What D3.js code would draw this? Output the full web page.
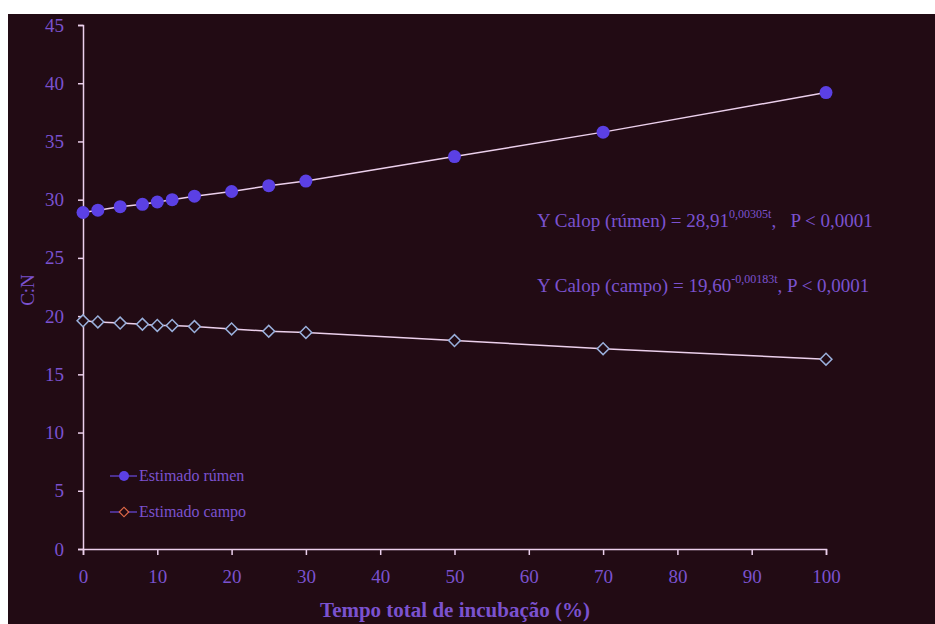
<!DOCTYPE html>
<html><head><meta charset="utf-8">
<script src="https://cdn.jsdelivr.net/npm/d3@7"></script>
<style>body{margin:0;background:#fff}svg{display:block}</style>
</head><body>
<script>
const tempo = [0, 2, 5, 8, 10, 12, 15, 20, 25, 30, 50, 70, 100];
const rumen = [28.9, 29.1, 29.4, 29.6, 29.8, 30.0, 30.3, 30.7, 31.2, 31.6, 33.7, 35.8, 39.2];
const campo = [19.6, 19.5, 19.4, 19.3, 19.2, 19.2, 19.1, 18.9, 18.7, 18.6, 17.9, 17.2, 16.3];
const xTicks = [0,10,20,30,40,50,60,70,80,90,100];
const yTicks = [0,5,10,15,20,25,30,35,40,45];

const W = 935, H = 624;
const svg = d3.select("body").append("svg").attr("width", W).attr("height", H);
const bg = "#220b14", axisC = "#ecd0ec", textC = "#7b52cf";
svg.append("rect").attr("x",8).attr("y",14).attr("width",W-8).attr("height",H-14).attr("fill",bg);

const x = d3.scaleLinear().domain([0,100]).range([83,826]);
const y = d3.scaleLinear().domain([0,45]).range([549,25]);
const font = "'Liberation Serif','Times New Roman',serif";

const xa = svg.append("g").attr("transform","translate(0,549)")
  .call(d3.axisBottom(x).tickValues(xTicks).tickSize(6).tickPadding(15).tickFormat(d3.format("d")));
const ya = svg.append("g").attr("transform","translate(83,0)")
  .call(d3.axisLeft(y).tickValues(yTicks).tickSize(5).tickPadding(14).tickFormat(d3.format("d")));
[xa,ya].forEach(a=>{
  a.select(".domain").attr("stroke",axisC).attr("stroke-width",1.5);
  a.selectAll(".tick line").attr("stroke",axisC).attr("stroke-width",1.5);
  a.selectAll(".tick text").attr("fill",textC).attr("font-family",font).attr("font-size",19);
});

const lineR = d3.line().x((d,i)=>x(tempo[i])).y(d=>y(d));
svg.append("path").datum(rumen).attr("d",lineR).attr("fill","none").attr("stroke",axisC).attr("stroke-width",1.5);
svg.append("path").datum(campo).attr("d",lineR).attr("fill","none").attr("stroke",axisC).attr("stroke-width",1.5);

svg.selectAll("circle.r").data(rumen).enter().append("circle").attr("class","r")
  .attr("cx",(d,i)=>x(tempo[i])).attr("cy",d=>y(d)).attr("r",6.5).attr("fill","#5b40e4");
svg.selectAll("path.c").data(campo).enter().append("path").attr("class","c")
  .attr("d", d3.symbol().type(d3.symbolSquare).size(70))
  .attr("transform",(d,i)=>`translate(${x(tempo[i])},${y(d)}) rotate(45)`)
  .attr("fill",bg).attr("stroke","#9ab0dc").attr("stroke-width",1.5);

// legend
const lg = svg.append("g");
lg.append("line").attr("x1",110).attr("x2",137).attr("y1",476).attr("y2",476).attr("stroke","#6a4ae0").attr("stroke-width",1.2);
lg.append("circle").attr("cx",124).attr("cy",476).attr("r",5).attr("fill","#5b40e4");
lg.append("text").attr("x",139).attr("y",481).text("Estimado rúmen").attr("fill",textC).attr("font-family",font).attr("font-size",16);
lg.append("line").attr("x1",110).attr("x2",137).attr("y1",512).attr("y2",512).attr("stroke","#6a4ae0").attr("stroke-width",1.2);
lg.append("path").attr("d",d3.symbol().type(d3.symbolSquare).size(45)).attr("transform","translate(124,512) rotate(45)")
  .attr("fill",bg).attr("stroke","#e06a48").attr("stroke-width",1.2);
lg.append("text").attr("x",139).attr("y",517).text("Estimado campo").attr("fill",textC).attr("font-family",font).attr("font-size",16);

// equations
function eq(yb, pre, sup, post){
  const t = svg.append("text").attr("x",537).attr("y",yb).attr("fill",textC).attr("font-family",font).attr("font-size",19);
  t.append("tspan").text(pre);
  t.append("tspan").attr("dy",-9).attr("font-size",12).text(sup);
  t.append("tspan").attr("dy",9).text(post);
}
eq(227, "Y Calop (rúmen) = 28,91", "0,00305t", ",\u00a0\u00a0\u00a0P < 0,0001");
eq(292, "Y Calop (campo) = 19,60", "-0,00183t", ", P < 0,0001");

svg.append("text").attr("x",455).attr("y",617).attr("text-anchor","middle").attr("fill",textC)
  .attr("font-family",font).attr("font-size",21).attr("font-weight","bold").text("Tempo total de incubação (%)");
svg.append("text").attr("transform","translate(34,290) rotate(-90)").attr("text-anchor","middle").attr("fill",textC)
  .attr("font-family",font).attr("font-size",19).text("C:N");
</script>
</body></html>
